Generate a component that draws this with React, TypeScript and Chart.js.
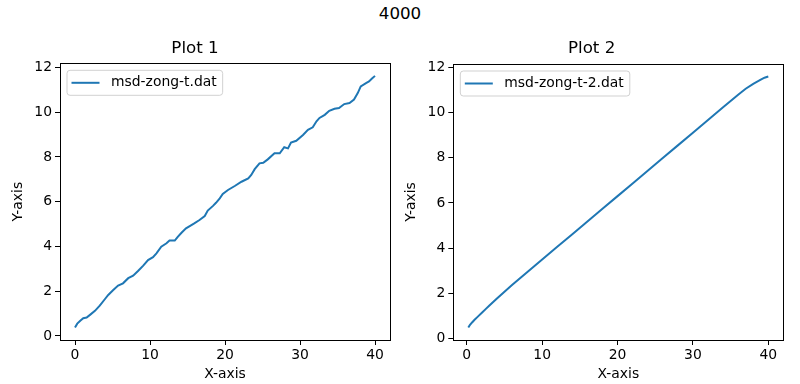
import React, { useEffect, useRef } from "react";
import { Chart, registerables } from "chart.js";

Chart.register(...registerables);

// ---- text ----
const suptitle = "4000";
const plotTitles = ["Plot 1", "Plot 2"];
const seriesNames = ["msd-zong-t.dat", "msd-zong-t-2.dat"];
const xLabel = "X-axis";
const yLabel = "Y-axis";
const xTicks = [0, 10, 20, 30, 40];
const yTicks = [0, 2, 4, 6, 8, 10, 12];

// ---- data ----
const plot1X = [
  0, 0.3, 0.7, 1.1, 1.55, 2.0, 2.66, 3.3, 4.0, 4.43, 5.1, 5.75, 6.4, 7.1, 7.75, 8.4, 9.1, 9.74,
  10.4, 10.86, 11.5, 12.2, 12.6, 13.3, 13.7, 14.2, 14.8, 15.3, 15.9, 16.6, 17.3, 17.7, 18.4, 18.8,
  19.3, 19.7, 20.4, 21.3, 22.2, 23.1, 23.5, 23.96, 24.6, 25.1, 25.7, 26.6, 27.3, 27.9, 28.4, 28.8,
  29.5, 30.4, 31.06, 31.7, 32.2, 32.6, 33.3, 33.9, 34.6, 35.2, 35.9, 36.6, 37.2, 37.7, 38.1, 38.8,
  39.2, 39.6, 40,
];
const plot1Y = [
  0.38, 0.55, 0.68, 0.79, 0.82, 0.94, 1.12, 1.35, 1.65, 1.83, 2.05, 2.25, 2.35, 2.58, 2.69, 2.9, 3.14, 3.39,
  3.52, 3.69, 3.99, 4.14, 4.26, 4.26, 4.43, 4.61, 4.81, 4.91, 5.03, 5.18, 5.36, 5.6, 5.81, 5.95,
  6.15, 6.34, 6.52, 6.7, 6.89, 7.04, 7.19, 7.45, 7.71, 7.74, 7.89, 8.16, 8.16, 8.43, 8.38, 8.64,
  8.72, 8.98, 9.21, 9.32, 9.59, 9.74, 9.88, 10.06, 10.15, 10.18, 10.36, 10.41, 10.56, 10.85, 11.15, 11.3,
  11.37, 11.5, 11.62,
];
const plot2X = [
  0.2, 0.4, 0.7, 1, 1.5, 2, 2.5, 3, 4, 5, 6, 8, 10, 12, 14, 16, 18, 20, 22, 24, 26, 28, 30, 32, 34,
  36, 37, 38, 39, 39.5, 40,
];
const plot2Y = [
  0.5, 0.6, 0.72, 0.83, 0.99, 1.15, 1.31, 1.47, 1.78, 2.08, 2.37, 2.94, 3.5, 4.06, 4.62, 5.18, 5.74,
  6.3, 6.86, 7.42, 7.98, 8.54, 9.1, 9.66, 10.22, 10.78, 11.04, 11.26, 11.44, 11.53, 11.58,
];

const FONT = "'DejaVu Sans', sans-serif";
const LINE_COLOR = "#1f77b4";

function autoRange(vals: number[]): [number, number] {
  const lo = Math.min(...vals);
  const hi = Math.max(...vals);
  const r = hi - lo;
  return [lo - 0.05 * r, hi + 0.05 * r];
}

const frameAndLegend = {
  id: "frameAndLegend",
  afterDraw(chart: any) {
    const { ctx, chartArea: a } = chart;
    ctx.save();
    // axes frame
    ctx.strokeStyle = "#000";
    ctx.lineWidth = 1;
    const l = Math.round(a.left) + 0.5;
    const t = Math.round(a.top) + 0.5;
    const r = Math.round(a.right) + 0.5;
    const b = Math.round(a.bottom) + 0.5;
    ctx.strokeRect(l, t, r - l, b - t);
    // legend
    const label = chart.data.datasets[0].label as string;
    ctx.font = `13.9px ${FONT}`;
    const tw = ctx.measureText(label).width;
    const bx = a.left + 7;
    const by = a.top + 7;
    const bw = 44 + tw + 6;
    const bh = 25;
    const rad = 3;
    ctx.beginPath();
    ctx.moveTo(bx + rad, by);
    ctx.lineTo(bx + bw - rad, by);
    ctx.arcTo(bx + bw, by, bx + bw, by + rad, rad);
    ctx.lineTo(bx + bw, by + bh - rad);
    ctx.arcTo(bx + bw, by + bh, bx + bw - rad, by + bh, rad);
    ctx.lineTo(bx + rad, by + bh);
    ctx.arcTo(bx, by + bh, bx, by + bh - rad, rad);
    ctx.lineTo(bx, by + rad);
    ctx.arcTo(bx, by, bx + rad, by, rad);
    ctx.closePath();
    ctx.fillStyle = "rgba(255,255,255,0.8)";
    ctx.fill();
    ctx.strokeStyle = "rgba(204,204,204,0.9)";
    ctx.lineWidth = 1;
    ctx.stroke();
    const ly = by + bh / 2;
    ctx.strokeStyle = LINE_COLOR;
    ctx.lineWidth = 2;
    ctx.beginPath();
    ctx.moveTo(bx + 4.5, ly);
    ctx.lineTo(bx + 32.5, ly);
    ctx.stroke();
    ctx.fillStyle = "#000";
    ctx.textBaseline = "middle";
    ctx.textAlign = "left";
    ctx.fillText(label, bx + 44, ly);
    ctx.restore();
  },
};

type PanelProps = {
  left: number;
  xs: number[];
  ys: number[];
  title: string;
  name: string;
  yAxisWidth: number;
  rightPad: number;
  topArea: number;
  yTitlePad: number;
};

function Panel(p: PanelProps) {
  const ref = useRef<HTMLCanvasElement | null>(null);
  useEffect(() => {
    if (!ref.current) return;
    const [xmin, xmax] = autoRange(p.xs);
    const [ymin, ymax] = autoRange(p.ys);
    const titleTop = 38.3;
    const titleLine = 16.7 * 1.2;
    const chart = new Chart(ref.current, {
      type: "scatter",
      data: {
        datasets: [
          {
            label: p.name,
            data: p.xs.map((x, i) => ({ x, y: p.ys[i] })),
            showLine: true,
            borderColor: LINE_COLOR,
            backgroundColor: LINE_COLOR,
            borderWidth: 2,
            pointRadius: 0,
            tension: 0,
            fill: false,
          },
        ],
      },
      options: {
        responsive: false,
        animation: false,
        devicePixelRatio: 1,
        layout: { padding: { left: 0, right: p.rightPad, top: 0, bottom: 0 } },
        plugins: {
          legend: { display: false },
          tooltip: { enabled: false },
          title: {
            display: true,
            text: p.title,
            color: "#000",
            font: { family: FONT, size: 16.7, weight: "normal", lineHeight: 1.2 },
            padding: { top: titleTop, bottom: p.topArea - titleTop - titleLine },
          },
        },
        scales: {
          x: {
            type: "linear",
            min: xmin,
            max: xmax,
            afterBuildTicks: (s: any) => {
              s.ticks = xTicks.map((v) => ({ value: v }));
            },
            afterFit: (s: any) => {
              s.height = 44;
            },
            grid: {
              drawOnChartArea: false,
              drawTicks: true,
              tickLength: 5,
              color: "#000",
              tickColor: "#000",
              lineWidth: 1,
            },
            border: { display: false },
            ticks: {
              color: "#000",
              font: { family: FONT, size: 13.9, lineHeight: 1.2 },
              padding: 2.5,
              maxRotation: 0,
              autoSkip: false,
            },
            title: {
              display: true,
              text: xLabel,
              color: "#000",
              font: { family: FONT, size: 13.9, lineHeight: 1.2 },
              padding: { top: 0, bottom: 1 },
            },
          },
          y: {
            type: "linear",
            min: ymin,
            max: ymax,
            afterBuildTicks: (s: any) => {
              s.ticks = yTicks.map((v) => ({ value: v }));
            },
            afterFit: (s: any) => {
              s.width = p.yAxisWidth;
            },
            grid: {
              drawOnChartArea: false,
              drawTicks: true,
              tickLength: 5,
              color: "#000",
              tickColor: "#000",
              lineWidth: 1,
            },
            border: { display: false },
            ticks: {
              color: "#000",
              font: { family: FONT, size: 13.9, lineHeight: 1.2 },
              padding: 3,
              autoSkip: false,
            },
            title: {
              display: true,
              text: yLabel,
              color: "#000",
              font: { family: FONT, size: 13.9, lineHeight: 1.2 },
              padding: { top: p.yTitlePad, bottom: 0 },
            },
          },
        },
      } as any,
      plugins: [frameAndLegend],
    });
    return () => chart.destroy();
  }, []);
  return (
    <canvas
      ref={ref}
      width={400}
      height={384}
      style={{ position: "absolute", left: p.left, top: 0, width: 400, height: 384 }}
    />
  );
}

export default function App() {
  return (
    <div
      style={{
        position: "absolute",
        left: 0,
        top: 0,
        width: 800,
        height: 384,
        background: "#fff",
        overflow: "hidden",
      }}
    >
      <div
        style={{
          position: "absolute",
          left: 0,
          top: 3,
          width: 800,
          textAlign: "center",
          fontFamily: FONT,
          fontSize: "16.7px",
          lineHeight: "20px",
          color: "#000",
        }}
      >
        {suptitle}
      </div>
      <Panel
        left={0}
        xs={plot1X}
        ys={plot1Y}
        title={plotTitles[0]}
        name={seriesNames[0]}
        yAxisWidth={60}
        rightPad={10}
        topArea={63.3}
        yTitlePad={9.7}
      />
      <Panel
        left={400}
        xs={plot2X}
        ys={plot2Y}
        title={plotTitles[1]}
        name={seriesNames[1]}
        yAxisWidth={53.3}
        rightPad={16.7}
        topArea={64}
        yTitlePad={2.7}
      />
    </div>
  );
}
